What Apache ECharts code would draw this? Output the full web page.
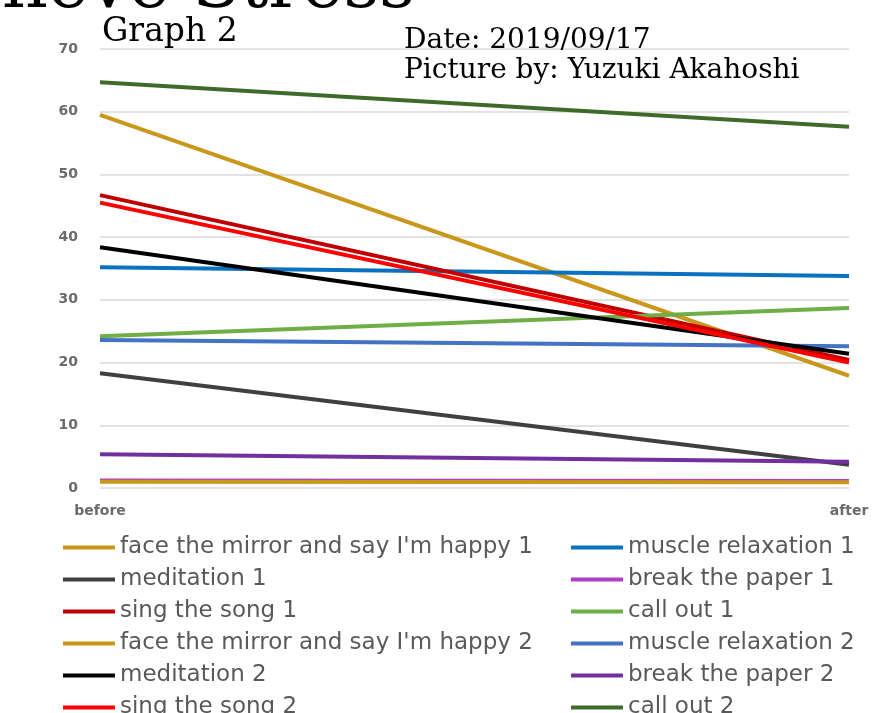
<!DOCTYPE html>
<html>
<head>
<meta charset="utf-8">
<script src="https://cdn.jsdelivr.net/npm/echarts@6/dist/echarts.min.js"></script>
<style>html,body{margin:0;padding:0;background:#fff;}#c{width:879px;height:713px;}</style>
</head>
<body>
<div id="c"></div>
<script>
const categories = ['before', 'after'];
const seriesNames = [
  'face the mirror and say I\'m happy 1', 'muscle relaxation 1',
  'meditation 1', 'break the paper 1',
  'sing the song 1', 'call out 1',
  'face the mirror and say I\'m happy 2', 'muscle relaxation 2',
  'meditation 2', 'break the paper 2',
  'sing the song 2', 'call out 2'
];
const faceMirror1 = [59.5, 17.9];
const muscle1 = [35.2, 33.8];
const meditation1 = [18.3, 3.7];
const breakPaper1 = [1.2, 1.1];
const singSong1 = [46.7, 20.4];
const callOut1 = [24.2, 28.7];
const faceMirror2 = [1.0, 0.9];
const muscle2 = [23.6, 22.6];
const meditation2 = [38.4, 21.4];
const breakPaper2 = [5.4, 4.2];
const singSong2 = [45.5, 20.0];
const callOut2 = [64.7, 57.6];
const seriesValues = [faceMirror1, muscle1, meditation1, breakPaper1, singSong1, callOut1,
                      faceMirror2, muscle2, meditation2, breakPaper2, singSong2, callOut2];
const yTicks = [0, 10, 20, 30, 40, 50, 60, 70];
const colors = ['#c9971c', '#0a70c0', '#404040', '#b03ec6', '#c00000', '#6fad47',
                '#c9971c', '#4472c4', '#000000', '#7030a0', '#ff0000', '#3f6b2a'];
const leftLegend = [seriesNames[0], seriesNames[2], seriesNames[4], seriesNames[6], seriesNames[8], seriesNames[10]];
const rightLegend = [seriesNames[1], seriesNames[3], seriesNames[5], seriesNames[7], seriesNames[9], seriesNames[11]];

const chart = echarts.init(document.getElementById('c'), null, {renderer: 'canvas'});
const legendText = {fontFamily: 'DejaVu Sans', fontSize: 23, color: '#595959', lineHeight: 22};
chart.setOption({
  animation: false,
  color: colors,
  grid: {left: 100, right: 30, top: 49, bottom: 225},
  xAxis: {
    type: 'category', data: categories, boundaryGap: false,
    axisLine: {show: false}, axisTick: {show: false},
    axisLabel: {color: '#6b6b6b', fontFamily: 'DejaVu Sans', fontWeight: 'bold', fontSize: 14, margin: 16}
  },
  yAxis: {
    type: 'value', min: yTicks[0], max: yTicks[yTicks.length - 1], interval: 10,
    axisLine: {show: false}, axisTick: {show: false},
    axisLabel: {color: '#6b6b6b', fontFamily: 'DejaVu Sans', fontWeight: 'bold', fontSize: 14, margin: 22},
    splitLine: {lineStyle: {color: '#d9d9d9', width: 1.5}}
  },
  legend: [
    {orient: 'vertical', left: 58, top: 531, height: 220, itemWidth: 52, itemHeight: 4, itemGap: 9, icon: 'rect',
     data: leftLegend, textStyle: legendText, selectedMode: false},
    {orient: 'vertical', left: 566, top: 531, height: 220, itemWidth: 52, itemHeight: 4, itemGap: 9, icon: 'rect',
     data: rightLegend, textStyle: legendText, selectedMode: false}
  ],
  series: seriesNames.map((n, i) => ({
    name: n, type: 'line', data: seriesValues[i], symbol: 'none',
    lineStyle: {width: 4, color: colors[i]}, itemStyle: {color: colors[i]}
  })),
  graphic: [
    {type: 'text', x: 415, y: -11, z: 100,
     style: {text: 'Relieve Stress', font: '70px "DejaVu Serif"', fill: '#000', textAlign: 'right', textVerticalAlign: 'middle'}},
    {type: 'text', x: 102, y: 32, z: 100,
     style: {text: 'Graph 2', font: '33px "DejaVu Serif"', fill: '#000', textAlign: 'left', textVerticalAlign: 'middle'}},
    {type: 'text', x: 404, y: 41, z: 100,
     style: {text: 'Date: 2019/09/17', font: '28px "DejaVu Serif"', fill: '#000', textAlign: 'left', textVerticalAlign: 'middle'}},
    {type: 'text', x: 404, y: 71, z: 100,
     style: {text: 'Picture by: Yuzuki Akahoshi', font: '28px "DejaVu Serif"', fill: '#000', textAlign: 'left', textVerticalAlign: 'middle'}}
  ]
});
</script>
</body>
</html>
